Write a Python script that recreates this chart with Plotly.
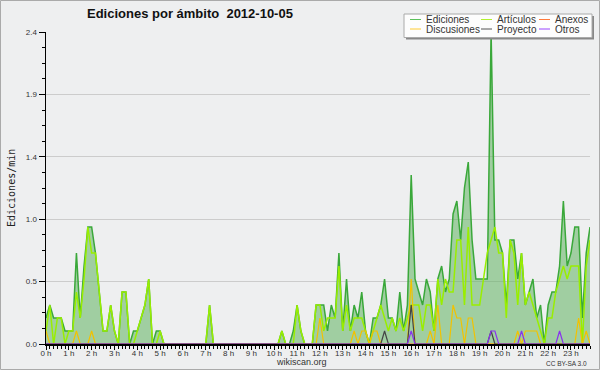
import plotly.graph_objects as go

# ---------------- data (values per 10-minute bin, edits/min) ----------------
n_bins = 144
time_h = [i / 6 for i in range(n_bins)]

ediciones = [
    0.2, 0.3, 0.2, 0.2, 0.2, 0.1, 0.1, 0.1, 0.7, 0.2, 0.6, 0.9, 0.9, 0.7, 0.4, 0.1,
    0.1, 0.3, 0.1, 0.0, 0.4, 0.4, 0.0, 0.1, 0.1, 0.2, 0.3, 0.5, 0.0, 0.1, 0.1, 0.0,
    0.0, 0.0, 0.0, 0.0, 0.0, 0.0, 0.0, 0.0, 0.0, 0.0, 0.0, 0.3, 0.0, 0.0, 0.0, 0.0,
    0.0, 0.0, 0.0, 0.0, 0.0, 0.0, 0.0, 0.0, 0.0, 0.0, 0.0, 0.0, 0.0, 0.0, 0.1, 0.0,
    0.0, 0.1, 0.3, 0.1, 0.0, 0.0, 0.0, 0.3, 0.3, 0.3, 0.1, 0.3, 0.2, 0.7, 0.1, 0.5,
    0.1, 0.3, 0.2, 0.4, 0.1, 0.0, 0.2, 0.2, 0.3, 0.5, 0.2, 0.2, 0.1, 0.4, 0.1, 0.3,
    1.3, 0.5, 0.4, 0.3, 0.5, 0.4, 0.1, 0.5, 0.6, 0.4, 0.5, 1.0, 1.1, 0.8, 1.2, 1.4,
    0.8, 0.5, 0.5, 0.5, 0.5, 2.4, 0.8, 0.8, 0.7, 0.3, 0.8, 0.8, 0.5, 0.7, 0.3, 0.4,
    0.5, 0.2, 0.3, 0.0, 0.3, 0.4, 0.4, 0.6, 1.1, 0.6, 0.7, 0.9, 0.9, 0.2, 0.7, 0.9,
]

articulos = [
    0.1, 0.3, 0.0, 0.2, 0.2, 0.0, 0.1, 0.1, 0.4, 0.2, 0.5, 0.9, 0.7, 0.7, 0.4, 0.1,
    0.1, 0.3, 0.1, 0.0, 0.4, 0.4, 0.0, 0.0, 0.1, 0.2, 0.3, 0.5, 0.0, 0.0, 0.1, 0.0,
    0.0, 0.0, 0.0, 0.0, 0.0, 0.0, 0.0, 0.0, 0.0, 0.0, 0.0, 0.3, 0.0, 0.0, 0.0, 0.0,
    0.0, 0.0, 0.0, 0.0, 0.0, 0.0, 0.0, 0.0, 0.0, 0.0, 0.0, 0.0, 0.0, 0.0, 0.1, 0.0,
    0.0, 0.0, 0.3, 0.1, 0.0, 0.0, 0.0, 0.3, 0.3, 0.1, 0.2, 0.2, 0.2, 0.6, 0.1, 0.3,
    0.1, 0.2, 0.2, 0.2, 0.1, 0.0, 0.1, 0.2, 0.3, 0.2, 0.1, 0.2, 0.1, 0.2, 0.1, 0.2,
    0.3, 0.3, 0.3, 0.1, 0.3, 0.3, 0.1, 0.5, 0.3, 0.5, 0.4, 0.4, 0.8, 0.8, 0.3, 0.9,
    0.3, 0.3, 0.3, 0.5, 0.7, 0.8, 0.9, 0.7, 0.7, 0.2, 0.8, 0.7, 0.3, 0.7, 0.3, 0.4,
    0.3, 0.2, 0.1, 0.0, 0.2, 0.2, 0.4, 0.5, 0.6, 0.5, 0.6, 0.6, 0.6, 0.0, 0.6, 0.8,
]

anexos = [0.0] * n_bins

discusiones = [0.0] * n_bins
for idx, v in {0: 0.1, 8: 0.1, 12: 0.1, 72: 0.2, 81: 0.1, 83: 0.1, 84: 0.1, 86: 0.1,
               87: 0.1, 96: 0.5, 101: 0.1, 103: 0.3, 107: 0.3, 108: 0.2, 109: 0.2,
               111: 0.2, 112: 0.2, 124: 0.1, 126: 0.1, 127: 0.1, 128: 0.1, 129: 0.1,
               140: 0.2, 142: 0.1}.items():
    discusiones[idx] = v

proyecto = [0.0] * n_bins
for idx, v in {89: 0.1, 96: 0.3, 117: 0.1}.items():
    proyecto[idx] = v

otros = [0.0] * n_bins
for idx, v in {96: 0.1, 117: 0.1, 118: 0.1, 125: 0.1, 135: 0.1}.items():
    otros[idx] = v

hour_ticks = list(range(24))
hour_labels = [f"{h} h" for h in hour_ticks]
y_ticks = [0, 0.48, 0.96, 1.44, 1.92, 2.4]
y_labels = ["0.0", "0.5", "1.0", "1.4", "1.9", "2.4"]

title = "Ediciones por ámbito  2012-10-05"
legend_items = [
    ("Ediciones", "#5cc15c"), ("Artículos", "#b2f030"), ("Anexos", "#ff7a3c"),
    ("Discusiones", "#ffcc33"), ("Proyecto", "#555555"), ("Otros", "#9944ff"),
]

# ---------------- figure ----------------
W, H = 600, 370
L, R, T, B = 46, 10, 32, 26
PW, PH = W - L - R, H - T - B


def px(x):
    return (x - L) / PW


def py(y):
    return (H - B - y) / PH


fig = go.Figure()
fig.add_trace(go.Scatter(x=time_h, y=ediciones, mode="lines", fill="tozeroy",
                         fillcolor="rgba(96,178,96,0.55)",
                         line=dict(color="#3aa83a", width=1.5), showlegend=False))
fig.add_trace(go.Scatter(x=time_h, y=articulos, mode="lines",
                         line=dict(color="#99ee00", width=1.5), showlegend=False))
fig.add_trace(go.Scatter(x=time_h, y=anexos, mode="lines",
                         line=dict(color="#ff7a3c", width=1.2), showlegend=False))
fig.add_trace(go.Scatter(x=time_h, y=discusiones, mode="lines",
                         line=dict(color="#f2c200", width=1.2), showlegend=False))
fig.add_trace(go.Scatter(x=time_h, y=proyecto, mode="lines",
                         line=dict(color="#444444", width=1.2), showlegend=False))
fig.add_trace(go.Scatter(x=time_h, y=otros, mode="lines",
                         line=dict(color="#8833ee", width=1.2), showlegend=False))

tick_font = dict(family="Liberation Sans, Arial, sans-serif", size=8, color="#333333")

fig.update_layout(
    width=W, height=H,
    margin=dict(l=L, r=R, t=T, b=B, pad=0),
    paper_bgcolor="#eeeff0", plot_bgcolor="#eeeff0",
    showlegend=False,
    xaxis=dict(range=[0, time_h[-1]], tickvals=hour_ticks, ticktext=hour_labels,
               ticks="outside", ticklen=4, tickcolor="#000", tickwidth=1,
               showline=True, linecolor="#000", linewidth=1.5, showgrid=False,
               zeroline=False, tickfont=tick_font, automargin=False,
               ticklabelstandoff=-3,
               minor=dict(dtick=1 / 6, tick0=0, ticks="outside", ticklen=3,
                          tickcolor="#000", showgrid=False)),
    yaxis=dict(range=[0, 2.4], tickvals=y_ticks, ticktext=y_labels,
               ticks="outside", ticklen=6, tickcolor="#000", tickwidth=1,
               showline=True, linecolor="#000", linewidth=1.5,
               showgrid=True, gridcolor="#cccccc", gridwidth=1,
               zeroline=False, tickfont=tick_font, automargin=False,
               minor=dict(dtick=0.12, tick0=0, ticks="outside", ticklen=3,
                          tickcolor="#000", showgrid=False)),
)

shapes = []
# outer border of image
shapes.append(dict(type="rect", xref="paper", yref="paper",
                   x0=px(0.5), x1=px(W - 0.5), y0=py(H - 0.5), y1=py(0.5),
                   line=dict(color="#aaaaaa", width=1), layer="below"))
# legend shadow + box
shapes.append(dict(type="rect", xref="paper", yref="paper",
                   x0=px(406), x1=px(594), y0=py(39.5), y1=py(16),
                   fillcolor="#888888", line=dict(width=0), layer="above"))
shapes.append(dict(type="rect", xref="paper", yref="paper",
                   x0=px(404), x1=px(592), y0=py(37.5), y1=py(14),
                   fillcolor="#fdfdfd", line=dict(color="#aaaaaa", width=1), layer="above"))

annotations = []
col_x = [410, 481, 539]
row_y = [19.5, 29]
for k, (name, color) in enumerate(legend_items):
    cx = col_x[k % 3]
    ry = row_y[k // 3]
    shapes.append(dict(type="line", xref="paper", yref="paper",
                       x0=px(cx), x1=px(cx + 11), y0=py(ry), y1=py(ry),
                       line=dict(color=color, width=1), layer="above"))
    annotations.append(dict(text=name, xref="paper", yref="paper",
                            x=px(cx + 14), y=py(ry), xanchor="left", yanchor="middle",
                            showarrow=False,
                            font=dict(family="Liberation Sans, Arial, sans-serif",
                                      size=10, color="#333333")))

annotations.append(dict(text=f"<b>{title}</b>", xref="paper", yref="paper",
                        x=px(85), y=py(14), xanchor="left", yanchor="middle",
                        showarrow=False,
                        font=dict(family="Liberation Sans, Arial, sans-serif",
                                  size=13, color="#111111")))
annotations.append(dict(text="Ediciones/min", xref="paper", yref="paper",
                        x=px(11), y=py(188), xanchor="center", yanchor="middle",
                        textangle=-90, showarrow=False,
                        font=dict(family="DejaVu Sans Mono, monospace",
                                  size=10, color="#222222")))
annotations.append(dict(text="wikiscan.org", xref="paper", yref="paper",
                        x=px(301), y=py(362), xanchor="center", yanchor="middle",
                        showarrow=False,
                        font=dict(family="Liberation Sans, Arial, sans-serif",
                                  size=9, color="#333333")))
annotations.append(dict(text="CC BY-SA 3.0", xref="paper", yref="paper",
                        x=px(589), y=py(363), xanchor="right", yanchor="middle",
                        showarrow=False,
                        font=dict(family="Liberation Sans, Arial, sans-serif",
                                  size=6.5, color="#333333")))

fig.update_layout(shapes=shapes, annotations=annotations)
fig.write_html("out.html", config={"displayModeBar": False, "staticPlot": True})

# remove default page margin so the figure starts at the window's top-left corner
with open("out.html", encoding="utf-8") as f:
    html = f.read()
html = html.replace("<head>", "<head><style>html,body{margin:0;padding:0;overflow:hidden;}</style>", 1)
with open("out.html", "w", encoding="utf-8") as f:
    f.write(html)
